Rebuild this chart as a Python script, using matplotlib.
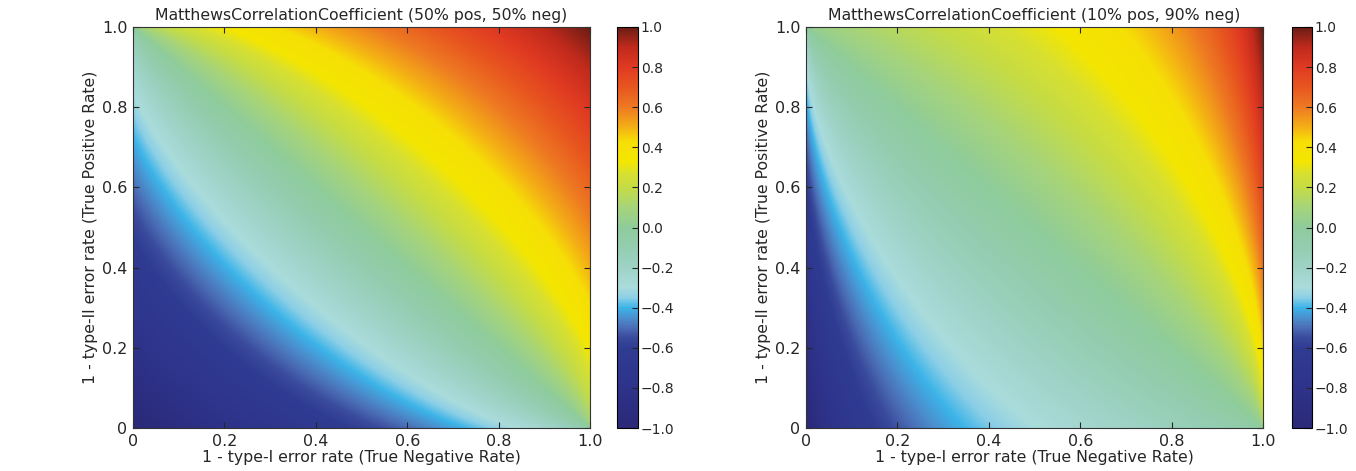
import numpy as np
import matplotlib
matplotlib.use("Agg")
import matplotlib.pyplot as plt
from matplotlib.colors import LinearSegmentedColormap

# Class balance of each panel (fraction positives)
pos_fractions = [0.5, 0.1]
titles = ["MatthewsCorrelationCoefficient (50% pos, 50% neg)",
          "MatthewsCorrelationCoefficient (10% pos, 90% neg)"]
xlabel = "1 - type-I error rate (True Negative Rate)"
ylabel = "1 - type-II error rate (True Positive Rate)"
axis_ticks = [0, 0.2, 0.4, 0.6, 0.8, 1.0]
axis_ticklabels = ["0", "0.2", "0.4", "0.6", "0.8", "1.0"]
cbar_ticks = [-1.0, -0.8, -0.6, -0.4, -0.2, 0.0, 0.2, 0.4, 0.6, 0.8, 1.0]

# colormap anchors
cmap_values = [-1.0, -0.8, -0.6, -0.55, -0.5, -0.45, -0.4, -0.35, -0.3, -0.2, -0.1,
               0.0, 0.1, 0.2, 0.27, 0.33, 0.43, 0.5, 0.6, 0.7, 0.8, 0.9, 1.0]
cmap_colors = ["#2b2978", "#2e338a", "#2f3c92", "#3a4a9c", "#4b6db5", "#4a90cf",
               "#3cb4e8", "#8ccfe6", "#aadcdc", "#9ed3c6", "#94cdb0",
               "#8fcc9c", "#a6d47a", "#c5dc45", "#d8e030", "#f4e600", "#f6df06",
               "#f4b015", "#ee7a22", "#e8561f", "#e03a22", "#c02a1c", "#6b1d14"]

cmap = LinearSegmentedColormap.from_list(
    "mcc", list(zip([(v + 1) / 2 for v in cmap_values], cmap_colors)), N=512)

grid_n = 400
tnr = np.linspace(0, 1, grid_n)
tpr = np.linspace(0, 1, grid_n)
TNR, TPR = np.meshgrid(tnr, tpr)


def mcc(p):
    tp = p * TPR
    fn = p * (1 - TPR)
    tn = (1 - p) * TNR
    fp = (1 - p) * (1 - TNR)
    den = np.sqrt((tp + fp) * (tp + fn) * (tn + fp) * (tn + fn))
    with np.errstate(divide="ignore", invalid="ignore"):
        m = (tp * tn - fp * fn) / den
    return np.where(den > 0, m, 0.0)


plt.rcParams["font.family"] = "DejaVu Sans"
text_color = "#262626"
fig = plt.figure(figsize=(13.56, 4.71), dpi=100)
W, H = 1356, 471
ax_rects = [(133, 27, 457, 401), (806, 27, 457, 401)]
cb_rects = [(617, 27, 21, 401), (1292, 27, 20, 401)]


def frac(r):
    x, y, w, h = r
    return [x / W, (H - y - h) / H, w / W, h / H]


for i, p in enumerate(pos_fractions):
    ax = fig.add_axes(frac(ax_rects[i]))
    cax = fig.add_axes(frac(cb_rects[i]))
    im = ax.imshow(mcc(p), origin="lower", extent=[0, 1, 0, 1], aspect="auto",
                   cmap=cmap, vmin=-1, vmax=1, interpolation="bilinear")
    ax.set_xticks(axis_ticks)
    ax.set_xticklabels(axis_ticklabels)
    ax.set_yticks(axis_ticks)
    ax.set_yticklabels(axis_ticklabels)
    ax.tick_params(direction="in", top=True, right=True, length=4, width=0.8,
                   labelsize=11.5, colors=text_color, pad=4)
    ax.set_xlabel(xlabel, fontsize=11.3, color=text_color, labelpad=1)
    ax.set_ylabel(ylabel, fontsize=11.3, color=text_color, labelpad=3)
    ax.set_title(titles[i], fontsize=11.3, color=text_color, pad=5)
    for s in ax.spines.values():
        s.set_linewidth(0.8)
        s.set_color("#333333")
    cb = fig.colorbar(im, cax=cax, ticks=cbar_ticks)
    cb.ax.tick_params(direction="in", length=4, width=0.8, labelsize=10,
                      colors=text_color, pad=2)
    cb.ax.set_yticklabels([f"{t:.1f}".replace("-", "\u2212") for t in cbar_ticks])
    cb.outline.set_linewidth(0.8)

fig.savefig("out.png", dpi=100)
